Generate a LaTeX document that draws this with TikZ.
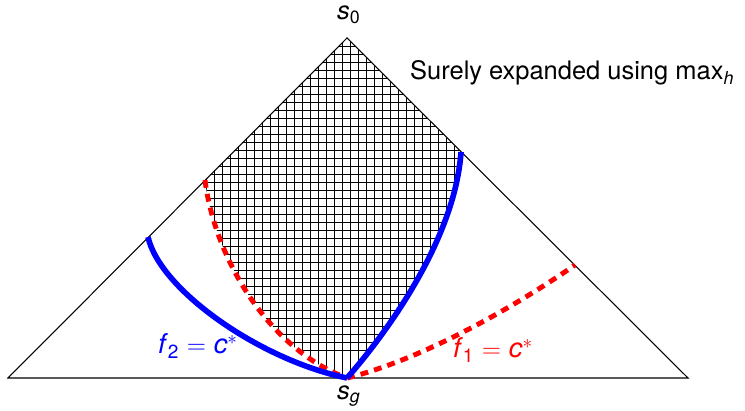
\documentclass[tikz,border=0pt]{standalone}
\usepackage{fontspec}
\setmainfont{TeX Gyre Heros}

\tikzset{
  side/.style={line width=0.6pt},
  hatchline/.style={line width=1pt},
  fcurve/.style={blue,line width=3.2pt},
  gcurve/.style={red,line width=2.8pt,dash pattern=on 4.5pt off 3.5pt}
}

\begin{document}
\begin{tikzpicture}[x=0.02cm,y=-0.02cm,font=\fontsize{14.5}{17}\selectfont]
\useasboundingbox (0,0) rectangle (745,411);
% Corners of the search space and the ends of the curves.
\coordinate (s0) at (347,38);
\coordinate (sg) at (347,378);
\coordinate (bl) at (8,378);
\coordinate (br) at (688,378);
\coordinate (ltop) at (205,180);
\coordinate (rtop) at (461,152);
\coordinate (fstart) at (148,237);
\coordinate (gend) at (575,265);
% Region that is surely expanded, hatched.
\begin{scope}
\clip (s0) -- (rtop) .. controls (455,240) and (385,335) .. (sg)
  .. controls (270,350) and (215,260) .. (ltop) -- cycle;
\foreach \k in {0,...,40}{
\draw[hatchline] (190.5+8*\k,30)--(190.5+8*\k,390);
\draw[hatchline] (190,30.5+8*\k)--(480,30.5+8*\k);}
\end{scope}
% Outline of the space.
\draw[side] (bl)--(s0)--(br)--cycle;
% The two contours.
\draw[gcurve] (ltop) .. controls (215,260) and (270,350) .. (sg);
\draw[gcurve] (sg) .. controls (420,360) and (510,310) .. (gend);
\draw[fcurve] (fstart) .. controls (160,290) and (260,360) .. (sg);
\draw[fcurve] (sg) .. controls (385,335) and (455,240) .. (rtop);
% Labels.
\node (s0lbl) at (349,15) {\textit{s}\textsubscript{0}};
\node (sglbl) at (349,396) {\textit{s}\textsubscript{\textit{g}}};
\node[anchor=west] (caption) at (404,73) {Surely expanded using max\textsubscript{\textit{h}}};
\node[blue,font=\fontsize{15.5}{18}\selectfont] (f2lbl) at (198,346) {\textit{f}\textsubscript{2} $=$ \textit{c}\textsuperscript{$*$}};
\node[red,font=\fontsize{15.5}{18}\selectfont] (f1lbl) at (493,350) {\textit{f}\textsubscript{1} $=$ \textit{c}\textsuperscript{$*$}};
\end{tikzpicture}
\end{document}
